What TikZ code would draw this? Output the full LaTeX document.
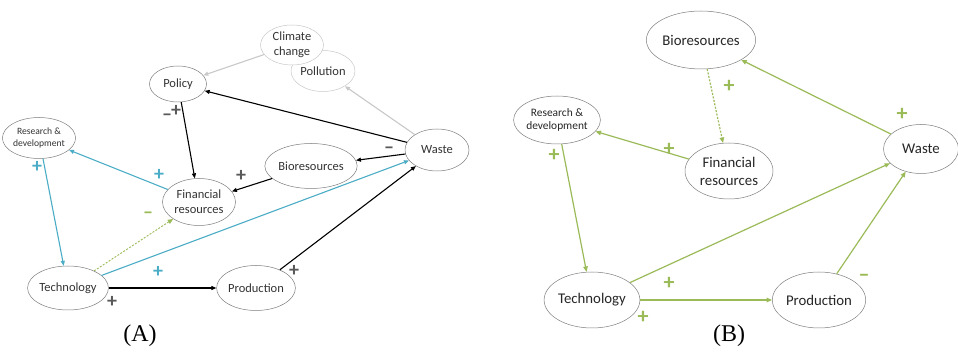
\documentclass[tikz,border=0pt]{standalone}
\usepackage{fontspec}
\setmainfont{Carlito}
\newfontfamily\capfont{Liberation Serif}
\usepackage{tikz}
\usetikzlibrary{arrows.meta,shapes.geometric,calc}
\definecolor{cld_blue}{RGB}{75, 172, 198}
\definecolor{cld_green}{RGB}{155, 187, 89}
\definecolor{cld_faded}{RGB}{200, 200, 200}
\definecolor{cld_sign}{RGB}{89, 89, 89}
\definecolor{cld_rim}{RGB}{125, 125, 125}
\tikzstyle{an}=[ellipse,draw=cld_rim,fill=white,line width=0.5pt,inner sep=0pt,
  align=center,text=black!80,font=\fontsize{12.5}{15}\selectfont]
\tikzstyle{bn}=[ellipse,draw=cld_rim,fill=white,line width=0.5pt,inner sep=0pt,
  align=center,text=black!85,font=\fontsize{14.8}{18}\selectfont]
\tikzstyle{fn}=[an,draw=cld_faded]
\tikzstyle{sa}=[font=\bfseries\fontsize{20}{20}\selectfont,text=cld_sign,inner sep=0pt]
\tikzstyle{sb}=[font=\bfseries\fontsize{22}{22}\selectfont,text=cld_green,inner sep=0pt]
\tikzstyle{paneltag}=[font=\capfont\fontsize{24}{24}\selectfont,inner sep=0pt]
\tikzstyle{blk}=[draw=black,line width=1.1pt,-{Triangle[length=5pt,width=4pt]}]
\tikzstyle{blu}=[draw=cld_blue,line width=1.1pt,-{Triangle[length=5pt,width=4pt]}]
\tikzstyle{gry}=[draw=cld_faded,line width=1.1pt,-{Triangle[length=5pt,width=4pt]}]
\tikzstyle{grn}=[draw=cld_green,line width=1.2pt,-{Triangle[length=5.5pt,width=4.5pt]}]
\tikzstyle{grndot}=[grn,dash pattern=on 2pt off 1.5pt]
\begin{document}
\begin{tikzpicture}[x=10pt, y=10pt]
            \useasboundingbox (0, 0) rectangle (95.8, 35.3);
            % (A)
            \node [style=fn, minimum width=63pt, minimum height=41pt] (1) at (32.3, 28.2) {Pollution};
            \node [style=fn, minimum width=63pt, minimum height=40pt] (0) at (29.2, 30.8) {Climate\\change};
            \node [style=an, minimum width=57pt, minimum height=36pt] (2) at (17.8, 26.9) {Policy};
            \node [style=an, minimum width=65pt, minimum height=41pt, font=\fontsize{9.6}{11.3}\selectfont] (3) at (3.9, 21.5) {Research \&\\development};
            \node [style=an, minimum width=64pt, minimum height=42pt] (4) at (43.7, 20.3) {Waste};
            \node [style=an, minimum width=73pt, minimum height=45pt] (5) at (31.1, 18.7) {Bioresources};
            \node [style=an, minimum width=73pt, minimum height=47pt] (6) at (19.9, 15.1) {Financial\\resources};
            \node [style=an, minimum width=72pt, minimum height=44pt] (7) at (6.8, 6.5) {Technology};
            \node [style=an, minimum width=72pt, minimum height=45pt] (8) at (25.6, 6.5) {Production};
            \node [style=paneltag] (9) at (14.0, 1.7) {(A)};
            \node [style=sa] (10) at (38.9, 20.3) {–};
            \node [style=sa] (11) at (16.7, 23.6) {–};
            \node [style=sa] (12) at (17.6, 24.2) {+};
            \node [style=sa] (13) at (24.1, 17.7) {+};
            \node [style=sa, text=cld_blue] (14) at (15.9, 17.8) {+};
            \node [style=sa, text=cld_blue] (15) at (3.7, 18.6) {+};
            \node [style=sa, text=cld_green] (16) at (14.8, 13.8) {–};
            \node [style=sa, text=cld_blue] (17) at (15.8, 8.1) {+};
            \node [style=sa] (18) at (11.2, 5.1) {+};
            \node [style=sa] (19) at (29.4, 8.2) {+};
            \draw [style=gry] (0) to (2);
            \draw [style=gry] (4) to (1);
            \draw [style=blk] (4) to (2);
            \draw [style=blk] (4) to (5);
            \draw [style=blk] (2) to (6);
            \draw [style=blk] (5) to (6);
            \draw [style=blu] (6) to (3);
            \draw [style=blu] (3) to (7);
            \draw [style=grndot, line width=0.9pt] (7) to (6);
            \draw [style=blu] (7) to (4);
            \draw [style=blk] (7) to (8);
            \draw [style=blk] (8) to (4);
            % (B)
            \node [style=bn, minimum width=100pt, minimum height=58pt] (20) at (70.1, 31.3) {Bioresources};
            \node [style=bn, minimum width=78pt, minimum height=48pt, font=\fontsize{11.4}{13.3}\selectfont] (21) at (55.7, 23.3) {Research \&\\development};
            \node [style=bn, minimum width=88pt, minimum height=56pt] (22) at (72.9, 18.2) {Financial\\resources};
            \node [style=bn, minimum width=75pt, minimum height=49pt] (23) at (92.1, 20.4) {Waste};
            \node [style=bn, minimum width=87pt, minimum height=56pt] (24) at (59.2, 5.3) {Technology};
            \node [style=bn, minimum width=87pt, minimum height=56pt] (25) at (81.9, 5.3) {Production};
            \node [style=paneltag] (26) at (72.9, 1.7) {(B)};
            \node [style=sb] (27) at (90.2, 23.9) {+};
            \node [style=sb] (28) at (72.9, 26.7) {+};
            \node [style=sb] (29) at (66.9, 20.4) {+};
            \node [style=sb] (30) at (55.4, 19.8) {+};
            \node [style=sb] (31) at (66.9, 7.0) {+};
            \node [style=sb] (32) at (64.3, 3.6) {+};
            \node [style=sb] (33) at (86.4, 7.5) {–};
            \draw [style=grn] (23) to (20);
            \draw [style=grndot] (20) to (22);
            \draw [style=grn] (22) to (21);
            \draw [style=grn] (21) to (24);
            \draw [style=grn] (24) to (23);
            \draw [style=grn] (24) to (25);
            \draw [style=grn] (25) to (23);
    \end{tikzpicture}
\end{document}
